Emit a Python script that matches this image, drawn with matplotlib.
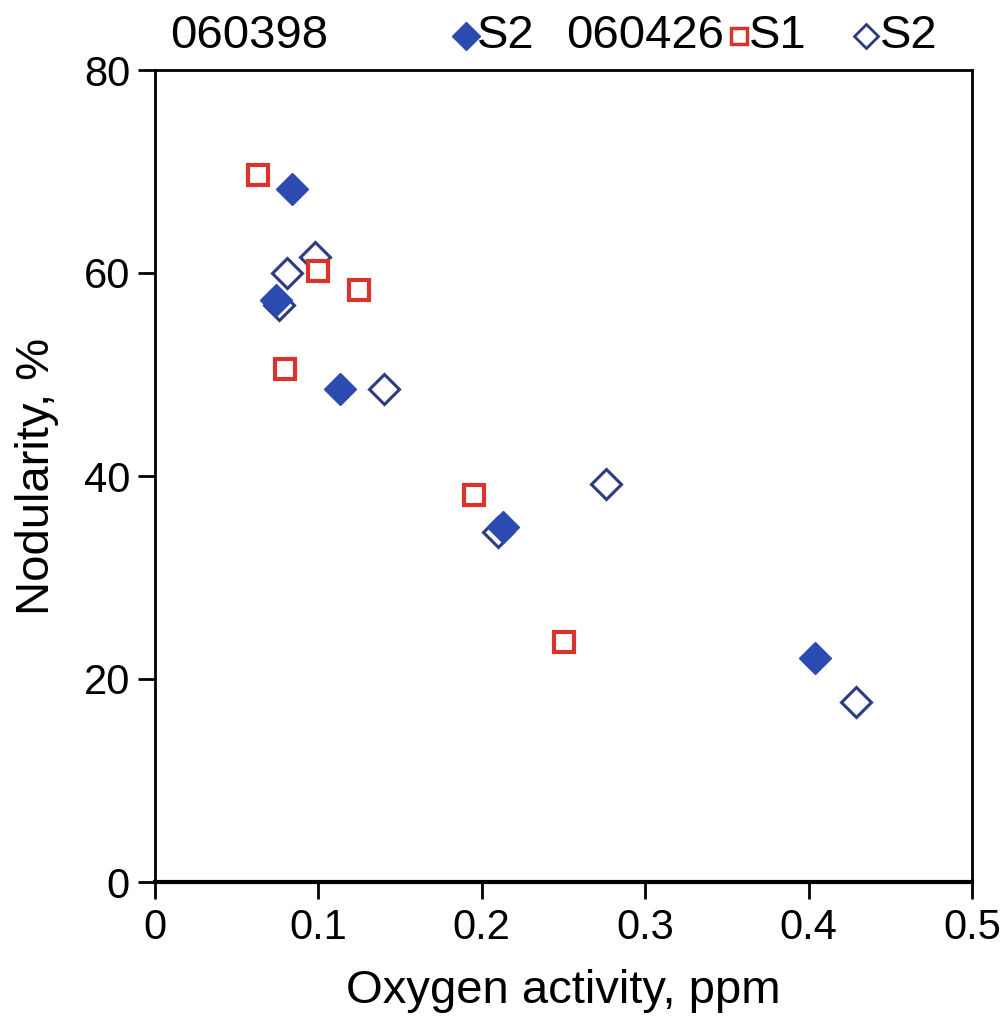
import matplotlib
matplotlib.use("Agg")
import matplotlib.pyplot as plt
from matplotlib.lines import Line2D

plt.rcParams['font.family'] = ['Liberation Sans', 'DejaVu Sans']

# 060398 S2 (filled diamonds)
a_s2_x = [0.084, 0.074, 0.113, 0.213, 0.404]
a_s2_y = [68.3, 57.3, 48.6, 35.0, 22.1]
# 060426 S1 (open squares)
b_s1_x = [0.063, 0.0995, 0.125, 0.0795, 0.195, 0.250]
b_s1_y = [69.7, 60.2, 58.3, 50.5, 38.1, 23.6]
# 060426 S2 (open diamonds)
b_s2_x = [0.0805, 0.098, 0.076, 0.140, 0.210, 0.276, 0.429]
b_s2_y = [60.0, 61.6, 56.8, 48.6, 34.5, 39.2, 17.7]

blue = '#2b4bb0'
navy = '#2e3a80'
red = '#d9342b'

fig = plt.figure(figsize=(10.08, 10.25), dpi=100)
ax = fig.add_axes([155/1008, 1 - 882/1025, 817/1008, 812/1025])

ax.plot(b_s2_x, b_s2_y, 'D', ms=15, mfc='white', mec=navy, mew=2.2, ls='none', zorder=2)
ax.plot(b_s1_x, b_s1_y, 's', ms=14.5, mfc='white', mec=red, mew=3, ls='none', zorder=3)
ax.plot(a_s2_x, a_s2_y, 'D', ms=16.5, mfc=blue, mec=blue, ls='none', zorder=4)

ax.set_xlim(0, 0.5)
ax.set_ylim(0, 80)
ax.set_xticks([0, 0.1, 0.2, 0.3, 0.4, 0.5])
ax.set_xticklabels(['0', '0.1', '0.2', '0.3', '0.4', '0.5'])
ax.set_yticks([0, 20, 40, 60, 80])
ax.tick_params(width=2, length=12, direction='out', labelsize=30)
ax.tick_params(axis='x', pad=7)
ax.tick_params(axis='y', pad=6)
for s in ax.spines.values():
    s.set_linewidth(2)
ax.spines['bottom'].set_linewidth(3)
ax.set_xlabel('Oxygen activity, ppm', fontsize=34, labelpad=15)
ax.set_ylabel('Nodularity, %', fontsize=34, labelpad=18)

# legend row above the axes
ty = 1 - 36/1025
fig.text(170/1008, ty, '060398', fontsize=34, va='center')
fig.add_artist(Line2D([466/1008], [ty], marker='D', ms=14, mfc=blue, mec=blue, ls='none'))
fig.text(477/1008, ty, 'S2', fontsize=34, va='center')
fig.text(566/1008, ty, '060426', fontsize=34, va='center')
fig.add_artist(Line2D([739/1008], [ty], marker='s', ms=11, mfc='white', mec=red, mew=2.5, ls='none'))
fig.text(749/1008, ty, 'S1', fontsize=34, va='center')
fig.add_artist(Line2D([866/1008], [ty], marker='D', ms=12, mfc='white', mec=navy, mew=2, ls='none'))
fig.text(880/1008, ty, 'S2', fontsize=34, va='center')

fig.savefig('out.png', dpi=100)
